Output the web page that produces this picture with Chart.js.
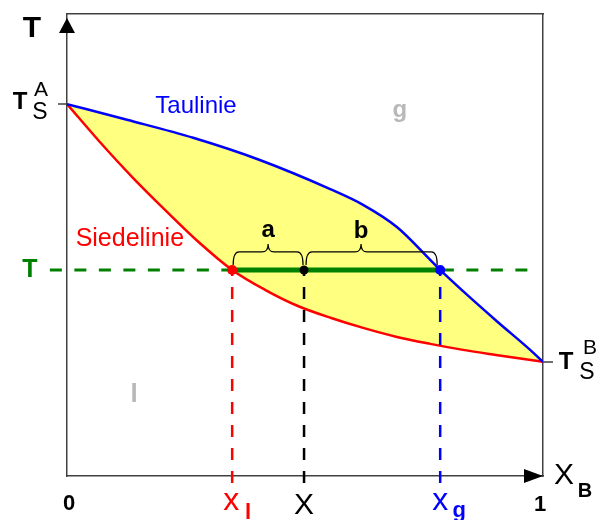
<!DOCTYPE html>
<html>
<head>
<meta charset="utf-8">
<script src="https://cdn.jsdelivr.net/npm/chart.js@4.4.0/dist/chart.umd.min.js"></script>
<style>
  html, body { margin: 0; padding: 0; background: #fff; }
  #diagram { display: block; }
</style>
</head>
<body>
<canvas id="diagram" width="597" height="520"></canvas>
<script>
// Siedediagramm eines idealen Zweistoffsystems A/B
// x = Stoffmengenanteil von B, y = Temperatur (willkürliche Einheiten)

// Taulinie (obere Kurve)
const tauX = [0, 0.126, 0.265, 0.405, 0.553, 0.622, 0.693, 0.763, 0.784, 0.832, 0.903, 0.973, 1];
const tauT = [80.5, 77.1, 73.2, 68.4, 62.1, 58.7, 53.9, 46.8, 44.6, 40.0, 33.5, 27.3, 24.7];

// Siedelinie (untere Kurve)
const siedeX = [0, 0.069, 0.139, 0.208, 0.277, 0.347, 0.416, 0.485, 0.555, 0.624, 0.693, 0.763, 0.832, 0.901, 1];
const siedeT = [80.5, 72.3, 64.5, 57.4, 50.6, 44.6, 40.3, 36.8, 34.2, 32.0, 30.1, 28.6, 27.3, 26.2, 24.7];

// Konode bei T: Flüssigkeit x_l, Gesamtzusammensetzung X, Dampf x_g
const tieT = 44.6;
const tieX = [0.347, 0.498, 0.784];
const tieColors = ['#ff0000', '#000000', '#0000ff'];

// Achsenbereich
const xRange = [0, 1];
const tRange = [0, 100];

const FONT = '"Liberation Sans", Arial, sans-serif';
const GREEN = '#008000';
const AXIS = '#404040';

const pts = (xs, ys) => xs.map((x, i) => ({ x: x, y: ys[i] }));

// gestrichelte Senkrechten von der Konode bis unter die x-Achse
const dropLines = tieX.map((x, i) => ({
    data: [{ x: x, y: tRange[0] - 1.5 }, { x: x, y: tieT }],
    showLine: true,
    borderColor: tieColors[i],
    borderWidth: 2.5,
    borderDash: [12, 11],
    pointRadius: 0,
    clip: false,
    order: 2
}));

// Text, Klammern, Pfeile und kleine Achsenmarken
const annotations = {
    id: 'annotations',
    afterDraw(chart) {
        const ctx = chart.ctx;
        const area = chart.chartArea;
        const xs = chart.scales.x;
        const ys = chart.scales.y;
        const px = v => xs.getPixelForValue(v);
        const py = v => ys.getPixelForValue(v);

        const text = (str, x, y, font, color) => {
            ctx.font = font;
            ctx.fillStyle = color;
            ctx.textAlign = 'center';
            ctx.textBaseline = 'middle';
            ctx.fillText(str, x, y);
        };

        ctx.save();

        // Pfeilspitzen
        ctx.fillStyle = '#000';
        ctx.beginPath();
        ctx.moveTo(area.left, area.top + 4);
        ctx.lineTo(area.left - 8, area.top + 19);
        ctx.lineTo(area.left + 8, area.top + 19);
        ctx.closePath();
        ctx.fill();
        ctx.beginPath();
        ctx.moveTo(area.right, area.bottom);
        ctx.lineTo(area.right - 19, area.bottom - 7);
        ctx.lineTo(area.right - 19, area.bottom + 7);
        ctx.closePath();
        ctx.fill();

        // Marken bei den Siedetemperaturen der reinen Stoffe
        const yA = py(tauT[0]);
        const yB = py(tauT[tauT.length - 1]);
        ctx.strokeStyle = AXIS;
        ctx.lineWidth = 1.5;
        ctx.beginPath();
        ctx.moveTo(area.left - 9, yA);
        ctx.lineTo(area.left, yA);
        ctx.moveTo(area.right, yB);
        ctx.lineTo(area.right + 10, yB);
        ctx.stroke();

        // geschweifte Klammern a und b über der Konode
        const yT = py(tieT);
        const brace = (x1, x2, xm) => {
            const r = 6, yEnd = yT - 5, yFlat = yT - 18, yTip = yT - 26;
            ctx.beginPath();
            ctx.moveTo(x1, yEnd);
            ctx.quadraticCurveTo(x1, yFlat, x1 + r, yFlat);
            ctx.lineTo(xm - r, yFlat);
            ctx.quadraticCurveTo(xm, yFlat, xm, yTip);
            ctx.quadraticCurveTo(xm, yFlat, xm + r, yFlat);
            ctx.lineTo(x2 - r, yFlat);
            ctx.quadraticCurveTo(x2, yFlat, x2, yEnd);
            ctx.stroke();
        };
        ctx.strokeStyle = '#000';
        ctx.lineWidth = 1.2;
        const xl = px(tieX[0]), xm = px(tieX[1]), xg = px(tieX[2]);
        brace(xl + 1, xm - 1, (xl + xm) / 2);
        brace(xm + 2, xg - 3, xm + 57);
        text('a', (xl + xm) / 2, yT - 40, 'bold 24px ' + FONT, '#000');
        text('b', xm + 57, yT - 39, 'bold 24px ' + FONT, '#000');

        // Kurvenbeschriftung und Phasengebiete
        text('Taulinie', px(0.271), py(80.1), '24px ' + FONT, '#0000ff');
        text('Siedelinie', px(0.132), py(51.3), '25px ' + FONT, '#ff0000');
        text('g', px(0.699), py(79.2), 'bold 24px ' + FONT, '#b8b8b8');
        text('l', px(0.141), py(17.5), 'bold 26px ' + FONT, '#b8b8b8');

        // Achsentitel
        text('T', area.left - 35, area.top + 15, 'bold 30px ' + FONT, '#000');
        text('X', area.right + 21, area.bottom, '30px ' + FONT, '#000');
        text('B', area.right + 42, area.bottom + 15, 'bold 20px ' + FONT, '#000');

        // T_S^A und T_S^B
        text('T', area.left - 47, yA - 2, 'bold 24px ' + FONT, '#000');
        text('A', area.left - 26, yA - 14, '21px ' + FONT, '#000');
        text('S', area.left - 27, yA + 9, '23px ' + FONT, '#000');
        text('T', area.right + 23, yB, 'bold 24px ' + FONT, '#000');
        text('B', area.right + 47, yB - 14, '21px ' + FONT, '#000');
        text('S', area.right + 44, yB + 11, '23px ' + FONT, '#000');

        // Temperatur der Konode
        text('T', area.left - 37, yT, 'bold 25px ' + FONT, GREEN);

        // Beschriftung unter der x-Achse
        text('0', px(xRange[0]) + 2, area.bottom + 28, 'bold 22px ' + FONT, '#000');
        text('1', px(xRange[1]) - 3, area.bottom + 29, 'bold 22px ' + FONT, '#000');
        text('x', xl - 1, area.bottom + 25, '32px ' + FONT, tieColors[0]);
        text('l', xl + 16, area.bottom + 37, 'bold 22px ' + FONT, tieColors[0]);
        text('X', xm, area.bottom + 30, '30px ' + FONT, tieColors[1]);
        text('x', xg, area.bottom + 25, '32px ' + FONT, tieColors[2]);
        text('g', xg + 19, area.bottom + 35, 'bold 22px ' + FONT, tieColors[2]);

        ctx.restore();
    }
};

const frameAxis = (position, range) => ({
    type: 'linear',
    position: position,
    min: range[0],
    max: range[1],
    ticks: { display: false },
    grid: { display: false, drawTicks: false },
    border: { display: true, color: AXIS, width: 1.5 }
});

new Chart(document.getElementById('diagram'), {
    type: 'scatter',
    data: {
        datasets: [
            // Punkte auf der Konode
            {
                data: tieX.map(x => ({ x: x, y: tieT })),
                pointBackgroundColor: tieColors,
                pointBorderWidth: 0,
                pointRadius: [5, 4.5, 5],
                showLine: false,
                clip: false,
                order: 0
            },
            // Konode
            {
                data: [{ x: tieX[0], y: tieT }, { x: tieX[2], y: tieT }],
                showLine: true,
                borderColor: GREEN,
                borderWidth: 5,
                pointRadius: 0,
                order: 1
            },
            ...dropLines,
            // Taulinie, Zweiphasengebiet bis zur Siedelinie gelb
            {
                data: pts(tauX, tauT),
                showLine: true,
                borderColor: '#0000ff',
                borderWidth: 2.5,
                backgroundColor: '#ffff80',
                fill: '+1',
                pointRadius: 0,
                cubicInterpolationMode: 'monotone',
                order: 3
            },
            // Siedelinie
            {
                data: pts(siedeX, siedeT),
                showLine: true,
                borderColor: '#ff0000',
                borderWidth: 2.5,
                pointRadius: 0,
                cubicInterpolationMode: 'monotone',
                order: 3
            },
            // gestrichelte Isotherme bei T
            {
                data: [{ x: -0.036, y: tieT }, { x: 0.983, y: tieT }],
                showLine: true,
                borderColor: GREEN,
                borderWidth: 3,
                borderDash: [12, 12.5],
                pointRadius: 0,
                clip: false,
                order: 4
            }
        ]
    },
    options: {
        responsive: false,
        animation: false,
        layout: { padding: { left: 67, right: 54, top: 14, bottom: 44 } },
        scales: {
            x: frameAxis('bottom', xRange),
            y: frameAxis('left', tRange),
            xTop: frameAxis('top', xRange),
            yRight: frameAxis('right', tRange)
        },
        plugins: {
            legend: { display: false },
            tooltip: { enabled: false },
            filler: { drawTime: 'beforeDatasetsDraw' }
        }
    },
    plugins: [annotations]
});
</script>
</body>
</html>
